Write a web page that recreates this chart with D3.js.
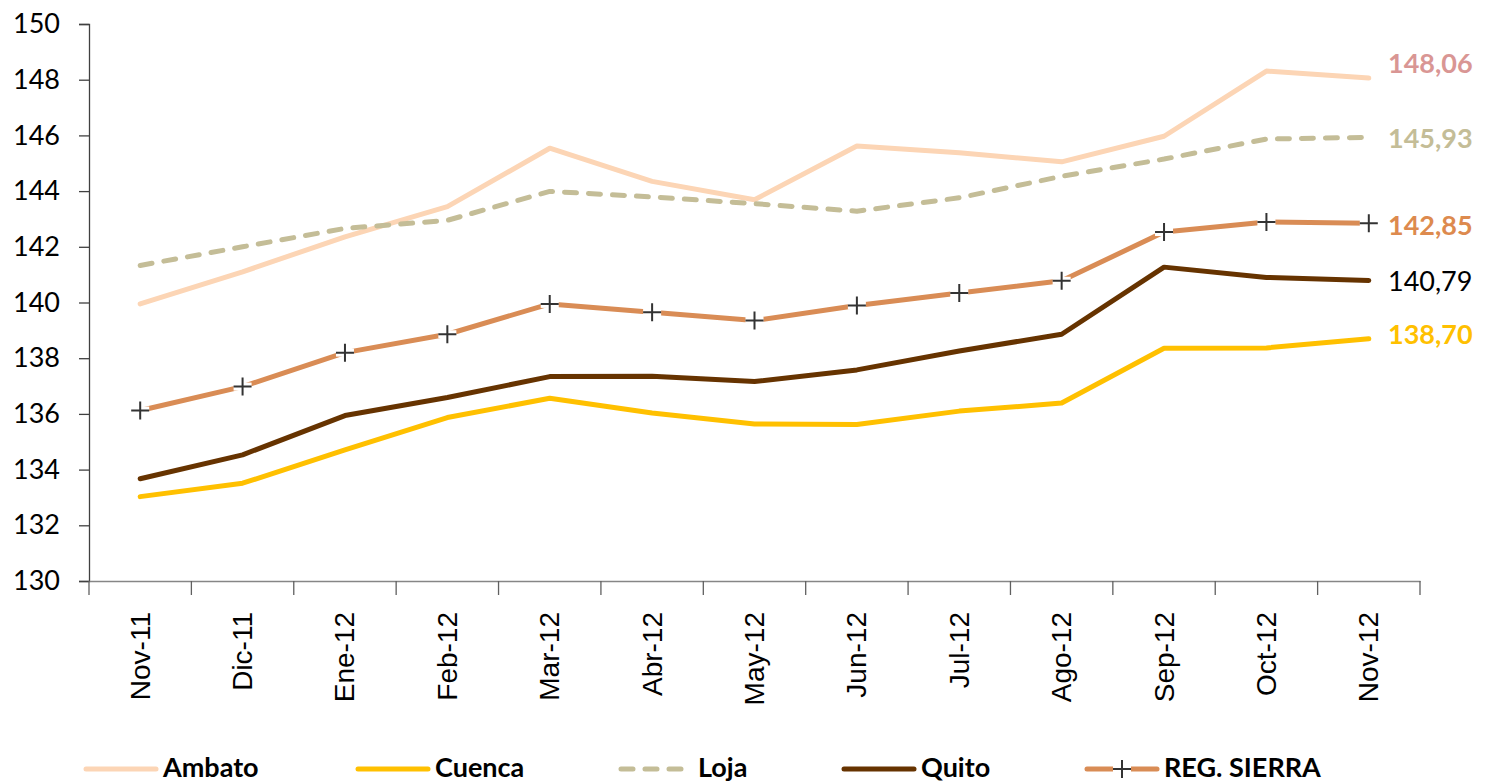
<!DOCTYPE html>
<html>
<head>
<meta charset="utf-8">
<script src="https://cdn.jsdelivr.net/npm/d3@7"></script>
<style>
  body { margin: 0; background: #fff; }
  svg { display: block; }
</style>
</head>
<body>
<div id="chart"></div>
<script>
// Meses (eje x)
const months = ["Nov-11", "Dic-11", "Ene-12", "Feb-12", "Mar-12", "Abr-12", "May-12",
                "Jun-12", "Jul-12", "Ago-12", "Sep-12", "Oct-12", "Nov-12"];

// Valores por ciudad
const ambato = [139.95, 141.10, 142.36, 143.44, 145.54, 144.35, 143.69, 145.62, 145.38, 145.05, 145.97, 148.31, 148.06];
const cuenca = [133.03, 133.51, 134.71, 135.87, 136.56, 136.03, 135.64, 135.62, 136.10, 136.39, 138.36, 138.37, 138.70];
const loja   = [141.33, 142.00, 142.66, 142.95, 143.99, 143.79, 143.55, 143.28, 143.76, 144.53, 145.15, 145.87, 145.93];
const quito  = [133.67, 134.53, 135.94, 136.59, 137.34, 137.35, 137.16, 137.58, 138.26, 138.86, 141.27, 140.90, 140.79];
const sierra = [136.12, 136.98, 138.20, 138.86, 139.95, 139.65, 139.35, 139.89, 140.34, 140.78, 142.53, 142.89, 142.85];

const yTicks = d3.range(130, 151, 2);

const series = [
  { name: "Ambato",      values: ambato, color: "#FCD5B5", labelColor: "#D99694", bold: true,  dy: -16, legendX: 86 },
  { name: "Cuenca",      values: cuenca, color: "#FFC000", labelColor: "#FFC000", bold: true,  dy: -5,  legendX: 358 },
  { name: "Loja",        values: loja,   color: "#C4BD97", labelColor: "#C4BD97", bold: true,  dy: 0,   legendX: 621, dash: "12,12" },
  { name: "Quito",       values: quito,  color: "#663300", labelColor: "#000000", bold: false, dy: 0,   legendX: 844 },
  { name: "REG. SIERRA", values: sierra, color: "#D98C55", labelColor: "#DD8A4E", bold: true,  dy: 1,   legendX: 1087, marker: true }
];

const width = 1486, height = 784;
const margin = { top: 24, right: 66, bottom: 203, left: 89 };
const fontMain = "Lato, 'Open Sans', sans-serif";

const svg = d3.select("#chart").append("svg")
    .attr("width", width)
    .attr("height", height);

const x = d3.scaleBand()
    .domain(months)
    .range([margin.left, width - margin.right])
    .padding(0);

const y = d3.scaleLinear()
    .domain([130, 150])
    .range([height - margin.bottom, margin.top]);

const cx = d => x(d) + x.bandwidth() / 2;

// Eje y
const yAxis = svg.append("g")
    .attr("transform", `translate(${margin.left},0)`)
    .call(d3.axisLeft(y).tickValues(yTicks).tickSize(10).tickFormat(d3.format("d")));
yAxis.select(".domain").attr("stroke", "#404040").attr("stroke-width", 1.3);
yAxis.selectAll(".tick line").attr("stroke", "#404040").attr("stroke-width", 1.3);
yAxis.selectAll(".tick text")
    .attr("x", -29)
    .attr("fill", "#000")
    .style("font-family", fontMain)
    .style("font-size", "27px");

// Eje x
const xAxis = svg.append("g")
    .attr("transform", `translate(0,${height - margin.bottom})`)
    .call(d3.axisBottom(x).tickSize(0).tickFormat(""));
xAxis.select(".domain").attr("stroke", "#868686").attr("stroke-width", 1.5);

// marcas entre categorias
const bounds = months.map(m => x(m)).concat([x(months[months.length - 1]) + x.bandwidth()]);
xAxis.selectAll(".sep")
    .data(bounds)
    .enter().append("line")
    .attr("class", "sep")
    .attr("x1", d => d).attr("x2", d => d)
    .attr("y1", 0).attr("y2", 14)
    .attr("stroke", "#606060")
    .attr("stroke-width", 1.3);

// etiquetas rotadas
svg.append("g").selectAll("text")
    .data(months)
    .enter().append("text")
    .attr("transform", d => `translate(${cx(d)},${height - margin.bottom + 31}) rotate(-90)`)
    .attr("text-anchor", "end")
    .attr("dominant-baseline", "central")
    .style("font-family", "'Liberation Sans', Arial, sans-serif")
    .style("font-size", "28px")
    .attr("fill", "#000")
    .text(d => d);

// Lineas
const line = d3.line()
    .x((d, i) => cx(months[i]))
    .y(d => y(d));

series.forEach(s => {
  svg.append("path")
      .datum(s.values)
      .attr("fill", "none")
      .attr("stroke", s.color)
      .attr("stroke-width", 5)
      .attr("stroke-linejoin", "round")
      .attr("stroke-linecap", "round")
      .attr("stroke-dasharray", s.dash || null)
      .attr("d", line);

  if (s.marker) {
    const m = svg.append("g").selectAll("g")
        .data(s.values)
        .enter().append("g")
        .attr("transform", (d, i) => `translate(${cx(months[i])},${y(d)})`);
    m.append("rect")
        .attr("x", -9).attr("y", -4).attr("width", 18).attr("height", 8)
        .attr("fill", "#fff");
    m.append("path")
        .attr("d", "M-9,0H9M0,-9V9")
        .attr("stroke", "#333")
        .attr("stroke-width", 2);
  }

  // etiqueta del ultimo valor
  const last = s.values[s.values.length - 1];
  svg.append("text")
      .attr("x", 1388)
      .attr("y", y(last) + s.dy)
      .attr("dominant-baseline", "central")
      .attr("fill", s.labelColor)
      .style("font-family", fontMain)
      .style("font-weight", s.bold ? "bold" : "normal")
      .style("font-size", "27px")
      .text(d3.format(".2f")(last).replace(".", ","));
});

// Leyenda
const legendY = 766;
const leg = svg.append("g").selectAll("g")
    .data(series)
    .enter().append("g")
    .attr("transform", d => `translate(${d.legendX},${legendY})`);

leg.append("line")
    .attr("x1", 0).attr("x2", 70)
    .attr("y1", 3).attr("y2", 3)
    .attr("stroke", d => d.color)
    .attr("stroke-width", 5)
    .attr("stroke-linecap", "round")
    .attr("stroke-dasharray", d => d.dash ? "12,12" : null);

leg.filter(d => d.marker).append("rect")
    .attr("x", 26).attr("y", -1).attr("width", 18).attr("height", 8)
    .attr("fill", "#fff");
leg.filter(d => d.marker).append("path")
    .attr("d", "M26,3H44M35,-6V12")
    .attr("stroke", "#333")
    .attr("stroke-width", 2);

leg.append("text")
    .attr("x", 77)
    .attr("y", 0)
    .attr("dominant-baseline", "central")
    .style("font-family", fontMain)
    .style("font-weight", "bold")
    .style("font-size", "27px")
    .attr("fill", "#000")
    .text(d => d.name);
</script>
</body>
</html>
